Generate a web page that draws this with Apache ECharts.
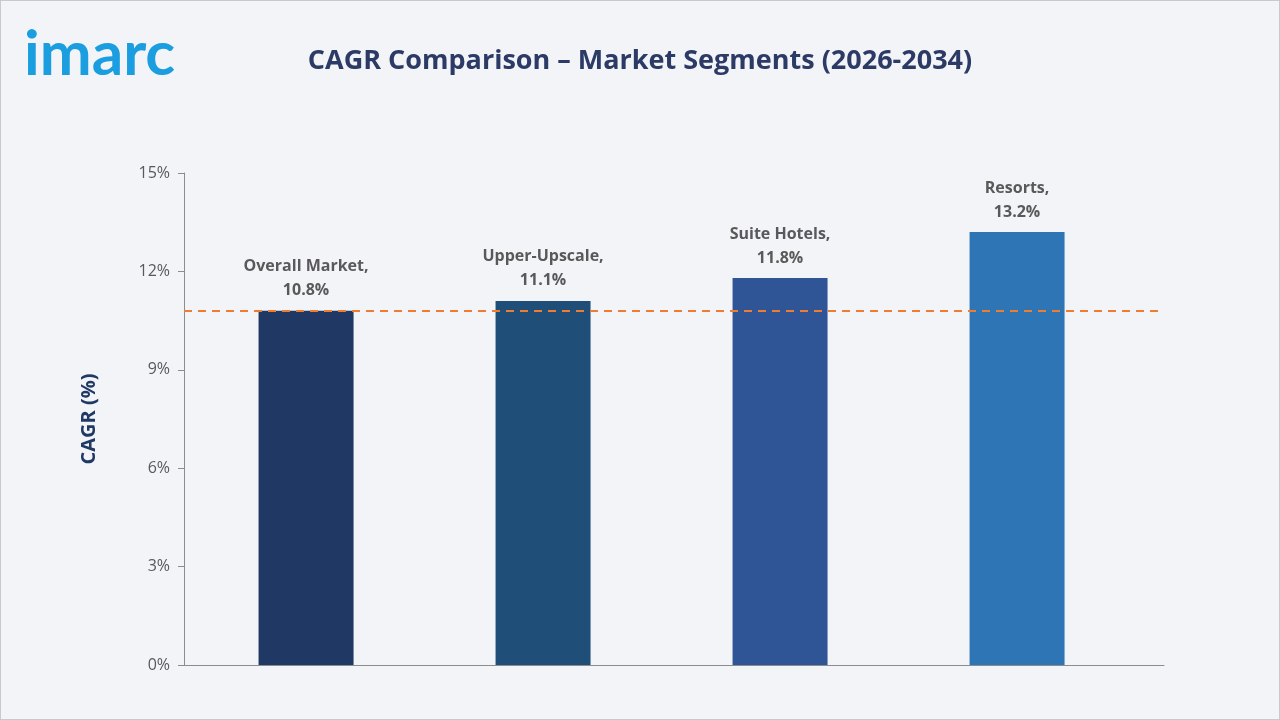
<!DOCTYPE html>
<html style="height: 100%;">
  <head>
    <meta charset="utf-8" />
  </head>
  <body style="height: 100%; margin: 0; background: #f2f4f8;">
    <div id="container" style="height: 100%; box-sizing: border-box; border: 1px solid #c9c9c9;"></div>
    <script src="https://cdn.jsdelivr.net/npm/echarts@6/dist/echarts.min.js"></script>
    <script type="text/javascript">
      var categories = ["Overall Market", "Upper-Upscale", "Suite Hotels", "Resorts"];
      var values = [10.8, 11.1, 11.8, 13.2];
      var barColors = ["#1f3864", "#1f4e79", "#2f5597", "#2e75b6"];
      var refValue = 10.8;

      var myChart = echarts.init(document.getElementById("container"));
      var option = {
        backgroundColor: "#f2f4f8",
        title: [
          {
            text: "CAGR Comparison \u2013 Market Segments (2026-2034)",
            left: "center",
            top: 42,
            textStyle: { color: "#2c3a66", fontSize: 27, fontWeight: "bold", fontFamily: "Open Sans" },
          },
          {
            text: "imarc",
            left: 18,
            top: 18,
            textStyle: { color: "#1a9ee0", fontSize: 62, fontWeight: "bold", fontFamily: "Lato" },
          },
        ],
        grid: { left: 183, right: 115, top: 172, bottom: 54 },
        xAxis: {
          type: "value",
          min: -0.515,
          max: 3.62,
          axisLine: { show: true, onZero: false, lineStyle: { color: "#8c8c8c" } },
          axisTick: { show: false },
          axisLabel: { show: false },
          splitLine: { show: false },
        },
        yAxis: {
          type: "value",
          min: 0,
          max: 15,
          interval: 3,
          name: "CAGR (%)",
          nameLocation: "middle",
          nameGap: 85,
          nameTextStyle: { color: "#1f3864", fontSize: 20, fontWeight: "bold", fontFamily: "Open Sans" },
          axisLine: { show: true, onZero: false, lineStyle: { color: "#8c8c8c" } },
          axisTick: { show: true, length: 6, lineStyle: { color: "#8c8c8c" } },
          splitLine: { show: false },
          axisLabel: { formatter: "{value}%", color: "#595959", fontSize: 16, margin: 14, fontFamily: "Open Sans" },
        },
        series: [
          {
            type: "bar",
            barWidth: 95,
            data: values.map(function (v, i) {
              return { value: [i, v], itemStyle: { color: barColors[i] } };
            }),
            label: {
              show: true,
              position: "top",
              distance: 8,
              color: "#595959",
              fontSize: 16,
              fontWeight: "bold",
              fontFamily: "Open Sans",
              lineHeight: 24,
              formatter: function (p) {
                return categories[p.value[0]] + ",\n" + p.value[1].toFixed(1) + "%";
              },
            },
            markLine: {
              symbol: "none",
              silent: true,
              label: { show: false },
              lineStyle: { color: "#ed7d31", type: [8, 6], width: 2 },
              data: [{ yAxis: refValue }],
            },
          },
        ],
      };
      myChart.setOption(option);
    </script>
  </body>
</html>
